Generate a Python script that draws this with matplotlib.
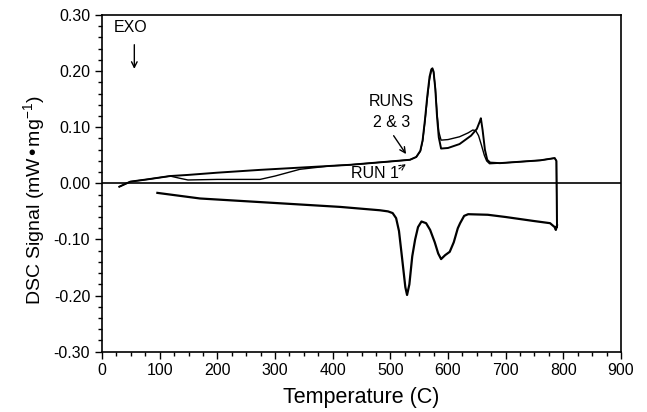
import numpy as np
import matplotlib.pyplot as plt
from matplotlib.ticker import MultipleLocator

plt.rcParams['font.family'] = ['Liberation Sans', 'DejaVu Sans']

# heating, run 1
run1_t = [30, 49, 78, 118, 135, 149, 200, 274, 300, 343, 395, 430, 500, 534, 545, 552, 556, 560, 564, 568, 571, 573,
          575, 578, 581, 584, 588, 600, 620, 635, 643, 648, 653, 658, 663, 667, 672, 690, 760, 785, 788, 789]
run1_v = [-0.006, 0.003, 0.007, 0.013, 0.009, 0.006, 0.007, 0.007, 0.013, 0.025, 0.031, 0.033, 0.039, 0.042, 0.047, 0.057, 0.075, 0.11, 0.15, 0.185, 0.200, 0.203,
          0.198, 0.170, 0.125, 0.092, 0.077, 0.078, 0.083, 0.09, 0.095, 0.094, 0.085, 0.068, 0.050, 0.040, 0.035, 0.036, 0.041, 0.045, 0.04, -0.078]

# heating, runs 2 & 3
run23_t = [30, 49, 78, 118, 149, 200, 274, 343, 395, 430, 500, 534, 545, 552, 556, 560, 564, 568, 571, 573,
           575, 578, 581, 584, 588, 600, 620, 640, 650, 655, 657, 660, 664, 668, 673, 690, 760, 785, 788, 789]
run23_v = [-0.006, 0.003, 0.007, 0.013, 0.015, 0.019, 0.024, 0.028, 0.031, 0.033, 0.039, 0.042, 0.047, 0.058, 0.077, 0.113, 0.155, 0.19, 0.203, 0.205,
           0.199, 0.168, 0.118, 0.082, 0.062, 0.063, 0.070, 0.085, 0.097, 0.110, 0.116, 0.095, 0.060, 0.042, 0.037, 0.036, 0.041, 0.045, 0.04, -0.078]

# cooling
cool_t = [96, 170, 300, 413, 482, 496, 504, 510, 515, 520, 526, 529, 533, 538, 543, 548, 554, 562, 569, 577, 583,
          588, 595, 603, 610, 617, 621, 628, 635, 669, 700, 748, 777, 785, 787, 789]
cool_v = [-0.017, -0.027, -0.035, -0.042, -0.048, -0.050, -0.053, -0.062, -0.085, -0.13, -0.185, -0.199, -0.18, -0.13, -0.10, -0.078, -0.068, -0.071, -0.083, -0.105, -0.125,
          -0.135, -0.128, -0.122, -0.105, -0.08, -0.071, -0.058, -0.055, -0.056, -0.06, -0.067, -0.071, -0.078, -0.083, -0.075]

fig = plt.figure(figsize=(6.47, 4.12), dpi=100)
ax = fig.add_axes([0.1577, 0.1464, 0.8021, 0.8172])

ax.axhline(0, color='black', lw=1.2, zorder=1)
ax.plot(run1_t, run1_v, color='black', lw=1.0)
ax.plot(run23_t, run23_v, color='black', lw=1.4)
ax.plot(cool_t, cool_v, color='black', lw=1.6)

ax.set_xlim(0, 900)
ax.set_ylim(-0.30, 0.30)
ax.xaxis.set_major_locator(MultipleLocator(100))
ax.xaxis.set_minor_locator(MultipleLocator(25))
ax.yaxis.set_major_locator(MultipleLocator(0.1))
ax.yaxis.set_minor_locator(MultipleLocator(0.02))
ax.yaxis.set_major_formatter(plt.FuncFormatter(lambda v, p: f'{v:.2f}'))
ax.tick_params(which='major', direction='out', length=5, width=1, labelsize=11.5, top=False, right=False)
ax.tick_params(which='minor', direction='out', length=3, width=1, top=False, right=False)
for s in ax.spines.values():
    s.set_linewidth(1.2)

ax.set_xlabel('Temperature (C)', fontsize=15.5, labelpad=6)
ax.set_ylabel('DSC Signal (mW\u2022mg$^{\\mathregular{-1}}$)', fontsize=14, va='center')
ax.yaxis.set_label_coords(-0.129, 0.45)

ax.text(50, 0.277, 'EXO', fontsize=11.5, ha='center', va='center')
ax.annotate('', xy=(56, 0.199), xytext=(56, 0.252),
            arrowprops=dict(arrowstyle='->', color='black', lw=1))
ax.text(502, 0.145, 'RUNS', fontsize=11.5, ha='center', va='center')
ax.text(502, 0.109, '2 & 3', fontsize=11.5, ha='center', va='center')
ax.annotate('', xy=(530, 0.048), xytext=(503, 0.089),
            arrowprops=dict(arrowstyle='->', color='black', lw=1))
ax.text(474, 0.017, 'RUN 1', fontsize=11.5, ha='center', va='center')
ax.annotate('', xy=(531, 0.037), xytext=(511, 0.023),
            arrowprops=dict(arrowstyle='->', color='black', lw=0.8, linestyle=(0, (2, 1))))

fig.savefig('out.png', dpi=100)
